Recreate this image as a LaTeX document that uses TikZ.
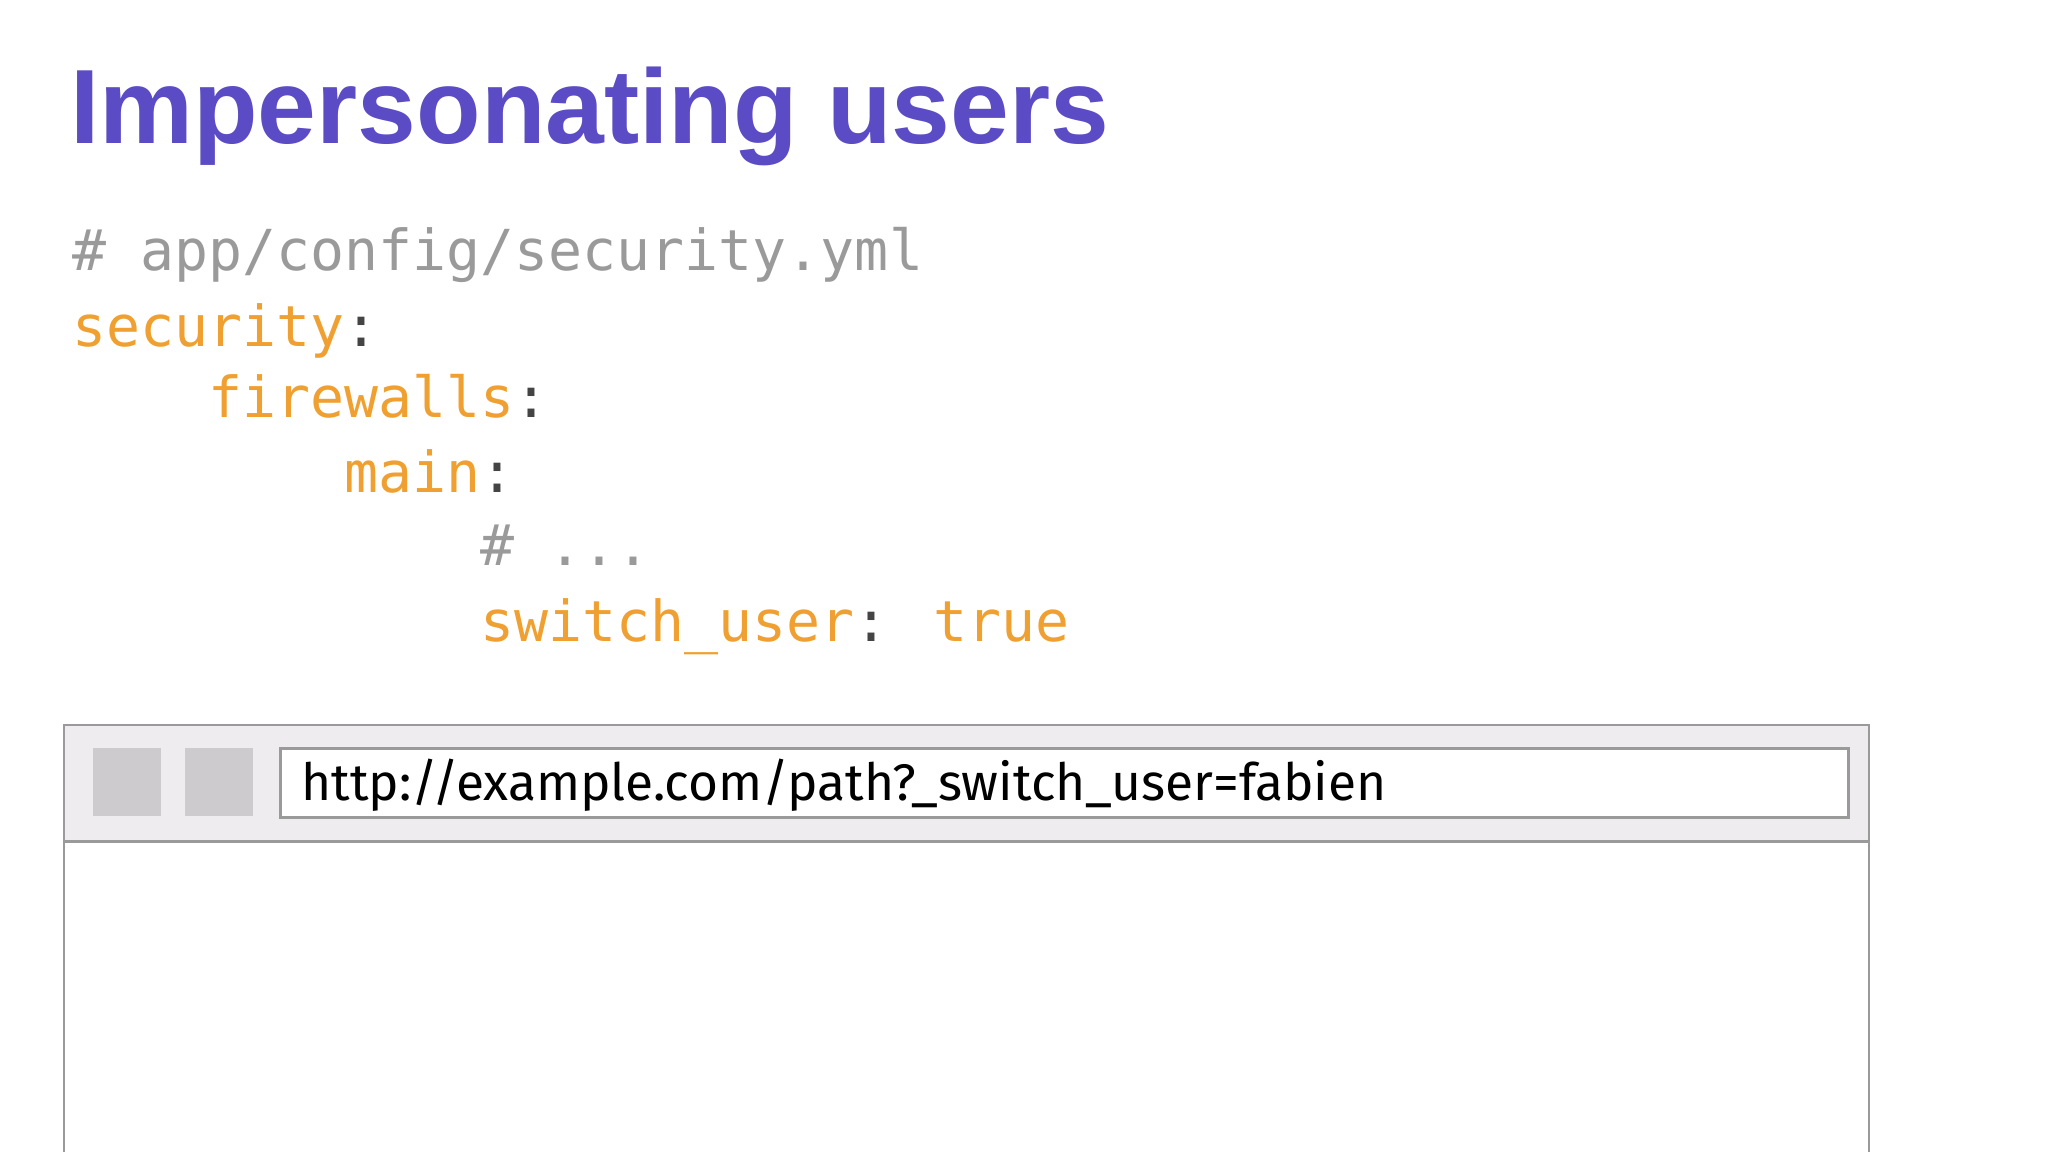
\documentclass[tikz,border=0pt]{standalone}
\usepackage{fontspec}
\setmainfont{Liberation Sans}
\newfontfamily\codefont{DejaVu Sans Mono}
\newfontfamily\urlfont{Fira Sans}
\definecolor{titlec}{HTML}{5B4BC4}
\definecolor{graycode}{HTML}{9A9A9A}
\definecolor{orangec}{HTML}{F0A030}
\definecolor{colonc}{HTML}{444444}
\definecolor{barbg}{HTML}{EEECEE}
\definecolor{btnc}{HTML}{CDCBCD}
\definecolor{framec}{HTML}{9A9A9A}
\begin{document}
\begin{tikzpicture}[x=0.01cm,y=-0.01cm,
  codeline/.style={anchor=base west,inner sep=0pt,font=\codefont\fontsize{12.3}{14}\selectfont},
  frame/.style={draw=framec,line width=0.6pt}]
\useasboundingbox (0,0) rectangle (1568,882);
\fill[white] (0,0) rectangle (1568,882);
\node[anchor=base west,inner sep=0pt,text=titlec,font=\bfseries\fontsize{23}{26}\selectfont] (title) at (53,110) {Impersonating users};
\node[codeline,text=graycode] (l1) at (55,207) {\# app/config/security.yml};
\node[codeline] (l2) at (55,265) {\textcolor{orangec}{security}\textcolor{colonc}{:}};
\node[codeline] (l3) at (159,320) {\textcolor{orangec}{firewalls}\textcolor{colonc}{:}};
\node[codeline] (l4) at (263,377) {\textcolor{orangec}{main}\textcolor{colonc}{:}};
\node[codeline,text=graycode] (l5) at (367,433) {\# ...};
\node[codeline] (l6) at (367,491) {\textcolor{orangec}{switch\_user}\textcolor{colonc}{:} \textcolor{orangec}{true}};
% browser
\fill[barbg] (49,555) rectangle (1431,644);
\draw[frame] (49,890) -- (49,555) -- (1431,555) -- (1431,890);
\draw[frame] (49,644) -- (1431,644);
\fill[btnc] (71,573) rectangle (123,625);
\fill[btnc] (142,573) rectangle (194,625);
\draw[frame,fill=white] (215,573) rectangle (1415,626);
\node[anchor=base west,inner sep=0pt,font=\urlfont\fontsize{11.2}{13}\selectfont] (url) at (230,613) {http://example.com/path?\_switch\_user=fabien};
\end{tikzpicture}
\end{document}
